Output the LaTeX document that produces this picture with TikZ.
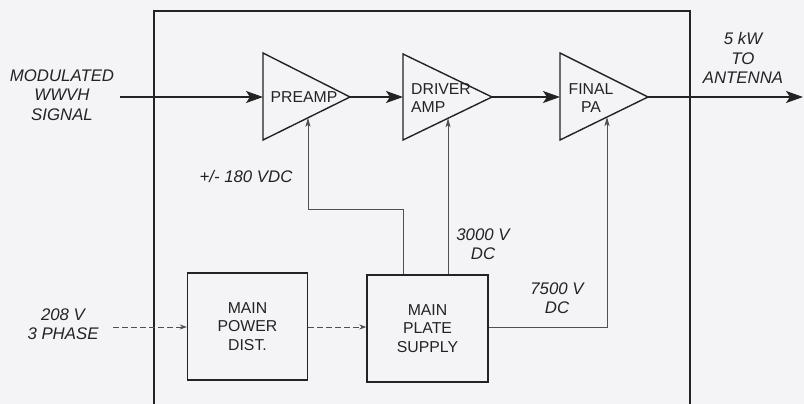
\documentclass[tikz,border=0pt]{standalone}
\usepackage{fontspec}
\setmainfont{Liberation Sans}
\usetikzlibrary{arrows.meta,calc}
\definecolor{bg}{RGB}{244,244,247}
\definecolor{ink}{RGB}{35,35,35}
\definecolor{thin}{RGB}{80,80,80}
\tikzset{
  lbl/.style={font=\fontsize{15.8}{18.5}\selectfont, text=ink, align=center, inner sep=0pt},
  ext/.style={lbl, font=\fontsize{16.8}{19.5}\selectfont\itshape},
  blk/.style={draw=ink, line width=1.4pt, minimum width=120pt, minimum height=107pt, lbl, inner sep=0pt},
  amp/.style={draw=ink, line width=1.4pt, line join=miter},
  sig/.style={draw=ink, line width=1.4pt, -{Stealth[length=17pt,width=12pt,inset=4pt]}},
  feed/.style={draw=thin, line width=0.8pt, -{Stealth[length=9pt,width=5pt,inset=2pt]}},
  pwr/.style={draw=thin, line width=0.9pt, dash pattern=on 6pt off 3pt, -{Stealth[length=7pt,width=5pt]}},
}
\begin{document}
\begin{tikzpicture}[x=1pt,y=-1pt]
\useasboundingbox (0,0) rectangle (804,404);
\fill[bg] (0,0) rectangle (804,404);
% enclosure
\draw[ink, line width=1.3pt] (154,404) |- (690,11) -- (690,404);
% amplifier triangles
\coordinate (pre-t) at (263,53); \coordinate (pre-b) at (263,140); \coordinate (pre-a) at (350,97);
\coordinate (drv-t) at (403,54); \coordinate (drv-b) at (403,140); \coordinate (drv-a) at (492,97);
\coordinate (fin-t) at (560,53); \coordinate (fin-b) at (560,140); \coordinate (fin-a) at (648,97);
\draw[amp] (pre-t) -- (pre-a) -- (pre-b) -- cycle;
\draw[amp] (drv-t) -- (drv-a) -- (drv-b) -- cycle;
\draw[amp] (fin-t) -- (fin-a) -- (fin-b) -- cycle;
\coordinate (pre-in) at (263,97);
\coordinate (drv-in) at (403,97);
\coordinate (fin-in) at (560,97);
\node[lbl] (preamp) at (304,97) {PREAMP};
\node[lbl, align=left, anchor=west] (drvamp) at (411,98) {DRIVER\\AMP};
\node[lbl] (finpa) at (591,98) {FINAL\\PA};
% external labels
\node[ext] (modsig) at (62,95) {MODULATED\\WWVH\\SIGNAL};
\node[ext] (ant) at (743,58) {5 kW\\TO\\ANTENNA};
\node[ext] (ac) at (63,324) {208 V\\3 PHASE};
\node[ext] (v180) at (246,176) {+/- 180 VDC};
\node[ext] (v3000) at (483,244) {3000 V\\DC};
\node[ext] (v7500) at (557,298) {7500 V\\DC};
% supply blocks
\node[blk] (dist) at (247.5,326.5) {MAIN\\POWER\\DIST.};
\node[blk, minimum width=121pt] (plate) at (427.5,328.5) {MAIN\\PLATE\\SUPPLY};
% signal chain
\coordinate (sigin) at (120,97);
\coordinate (antout) at (803,97);
\draw[sig] (sigin) -- (pre-in);
\draw[sig] (pre-a) -- (drv-in);
\draw[sig] (drv-a) -- (fin-in);
\draw[sig] (fin-a) -- (antout);
% power feeds
\coordinate (acin) at (113,327);
\draw[pwr] (acin) -- (acin -| dist.west);
\draw[pwr] (dist.east |- 0,327) -- (plate.west |- 0,327);
\coordinate (pre-fd) at ($(pre-b)!0.517!(pre-a)$);
\coordinate (drv-fd) at ($(drv-b)!0.506!(drv-a)$);
\coordinate (fin-fd) at ($(fin-b)!0.534!(fin-a)$);
\coordinate (jog) at (403,209);
\draw[feed] (plate.north -| jog) -- (jog) -| (pre-fd);
\draw[feed] (plate.north -| drv-fd) -- (drv-fd);
\draw[feed] (plate.east |- 0,327) -| (fin-fd);
\end{tikzpicture}
\end{document}
